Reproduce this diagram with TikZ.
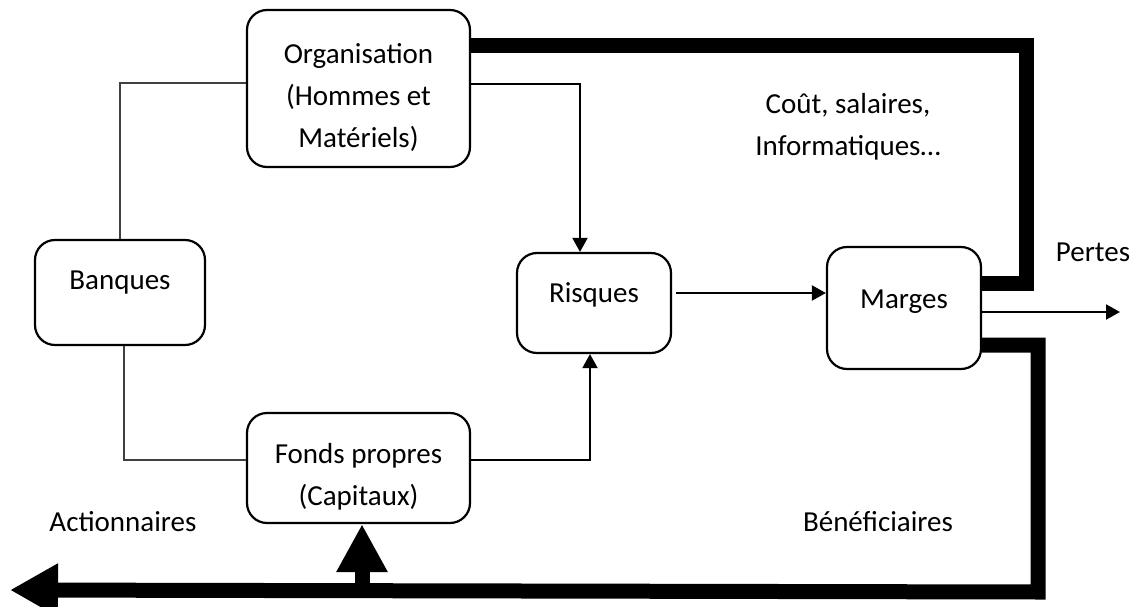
\documentclass[tikz,border=0pt]{standalone}
\usepackage{fontspec}
\setmainfont{Carlito}
\usetikzlibrary{arrows.meta,calc}
\begin{document}
\begin{tikzpicture}[x=1pt,y=-1pt,
  box/.style={draw=black,line width=2.2pt,rounded corners=20pt,inner sep=0pt},
  txt/.style={inner sep=0pt,align=center,font=\fontsize{29}{42}\selectfont},
  plain/.style={draw=black!75,line width=1.3pt},
  arrowline/.style={draw=black,line width=2pt,-{Triangle[width=15pt,length=14pt]}},
  heavy/.style={draw=black,line width=15pt,line join=miter,line cap=butt}]
\useasboundingbox (0,0) rectangle (1143,607);
\fill[white] (0,0) rectangle (1143,607);
% boxes
\node[box,minimum width=223pt,minimum height=157pt] (org) at (358.5,88.5) {};
\node[box,minimum width=170pt,minimum height=105pt] (banq) at (120,292.5) {};
\node[box,minimum width=154pt,minimum height=100pt] (risq) at (594,303) {};
\node[box,minimum width=154pt,minimum height=122pt] (marg) at (904,308) {};
\node[box,minimum width=223pt,minimum height=110pt] (fonds) at (358.5,468) {};
% box texts
\node[txt] (orgt) at (358.5,97) {Organisation\\(Hommes et\\ Matériels)};
\node[txt] (banqt) at (120,283) {Banques};
\node[txt] (risqt) at (594,295) {Risques};
\node[txt] (margt) at (904,302) {Marges};
\node[txt] (fondst) at (358.5,477) {Fonds propres\\(Capitaux)};
% free labels
\node[txt] (cout) at (848,126.5) {Coût, salaires,\\Informatiques…};
\node[txt] (pertes) at (1093,252) {Pertes};
\node[txt,anchor=base] (benef) at (878,531) {Bénéficiaires};
\node[txt,anchor=base] (action) at (123,531) {Actionnaires};
% helper coordinates
\coordinate (b1) at (120,83);
\coordinate (b2) at (124,460);
\coordinate (r1) at (580,84);
\coordinate (r2) at (590,460);
\coordinate (r3) at (0,293);
\coordinate (p1) at (1120,312);
\coordinate (c1) at (1026,46);
\coordinate (c2) at (1026,283);
\coordinate (c3) at (1038,345);
\coordinate (c4) at (1038,592);
\coordinate (tipL) at (10,590);
\coordinate (u0) at (362,592);
% thin connectors
\draw[plain] (banq.north) |- (org.west |- b1);
\draw[plain] (banq.south -| b2) |- (fonds.west |- b2);
\draw[arrowline] (org.east |- r1) -| (risq.north -| r1);
\draw[arrowline] (fonds.east |- r2) -| (risq.south -| r2);
\draw[arrowline] ([xshift=4pt]risq.east |- r3) -- (marg.west |- r3);
\draw[arrowline] (marg.east |- p1) -- (p1);
% heavy flows
\draw[heavy] (org.east |- c1) -- (c1) -- (c2) -- (marg.east |- c2);
\draw[heavy,-{Triangle[width=50pt,length=48pt]}] (marg.east |- c3) -- (c3) -- (c4) -- (tipL);
\draw[heavy,-{Triangle[width=48pt,length=48pt]}] (u0) -- (fonds.south -| u0);
\end{tikzpicture}
\end{document}
